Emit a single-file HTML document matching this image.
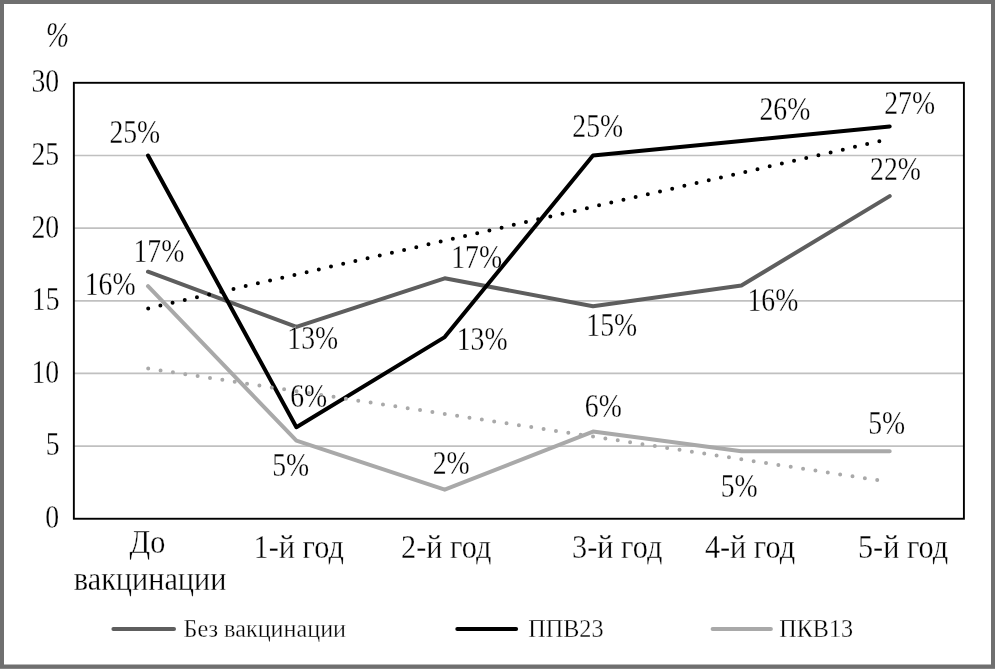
<!DOCTYPE html>
<html><head><meta charset="utf-8"><title>Chart</title>
<style>
html,body{margin:0;padding:0;background:#fff;}
body{width:995px;height:669px;overflow:hidden;}
svg{display:block;}
text{font-family:"Liberation Serif",serif;fill:#000;stroke:#fff;stroke-width:0.3px;paint-order:fill stroke;}
</style></head><body>
<svg width="995" height="669" viewBox="0 0 995 669">
<rect x="0" y="0" width="995" height="669" fill="#6f6f6f"/>
<rect x="0" y="668.2" width="995" height="0.8" fill="#8c8c8c"/>
<rect x="4" y="4" width="987" height="660.5" fill="#fff"/>
<g stroke="#c0c0c0" stroke-width="1.7" fill="none">
<line x1="73.85" x2="963.9" y1="446.1" y2="446.1"/>
<line x1="73.85" x2="963.9" y1="373.4" y2="373.4"/>
<line x1="73.85" x2="963.9" y1="300.8" y2="300.8"/>
<line x1="73.85" x2="963.9" y1="228.1" y2="228.1"/>
<line x1="73.85" x2="963.9" y1="155.5" y2="155.5"/>
</g>
<rect x="73.85" y="82.8" width="890.05" height="435.95" fill="none" stroke="#000" stroke-width="1.9"/>
<g fill="none" stroke-width="4" stroke-linecap="round" stroke-linejoin="round">
<polyline stroke="#a9a9a9" points="148.0,286.2 296.4,440.7 444.7,489.7 593.0,431.6 741.4,451.2 889.7,451.2"/>
<polyline stroke="#5e5e5e" points="148.0,271.7 296.4,326.9 444.7,278.3 593.0,306.3 741.4,285.5 889.7,196.1"/>
<polyline stroke="#000" points="148.0,155.5 296.4,427.2 444.7,337.1 593.0,155.5 741.4,140.9 889.7,126.4"/>
<line stroke="#000" stroke-dasharray="0 12.5" x1="148.2" y1="308.4" x2="889.8" y2="138.9"/>
<line stroke="#a9a9a9" stroke-dasharray="0 12.5" x1="148.2" y1="368.5" x2="884.0" y2="481.1"/>
<line stroke="#5e5e5e" x1="113.4" y1="629" x2="174.0" y2="629"/>
<line stroke="#000" x1="457.3" y1="629" x2="516.1" y2="629"/>
<line stroke="#a9a9a9" x1="712.6" y1="629" x2="770.9" y2="629"/>
</g>
<g>
<text transform="translate(46.04,47.20) scale(0.7786,1)" font-size="35.50" font-style="italic">%</text>
<text transform="translate(31.39,92.20) scale(0.8350,1)" font-size="33.20">30</text>
<text transform="translate(31.39,164.80) scale(0.8350,1)" font-size="33.20">25</text>
<text transform="translate(31.39,237.50) scale(0.8350,1)" font-size="33.20">20</text>
<text transform="translate(31.79,310.10) scale(0.8350,1)" font-size="33.20">15</text>
<text transform="translate(31.39,382.70) scale(0.8350,1)" font-size="33.20">10</text>
<text transform="translate(45.65,455.30) scale(0.8350,1)" font-size="33.20">5</text>
<text transform="translate(45.25,527.90) scale(0.8350,1)" font-size="33.20">0</text>
<text transform="translate(109.40,142.60) scale(0.8350,1)" font-size="33.20">25%</text>
<text transform="translate(133.45,261.80) scale(0.8350,1)" font-size="33.20">17%</text>
<text transform="translate(84.75,294.70) scale(0.8350,1)" font-size="33.20">16%</text>
<text transform="translate(287.35,349.20) scale(0.8350,1)" font-size="33.20">13%</text>
<text transform="translate(290.18,406.50) scale(0.8350,1)" font-size="33.20">6%</text>
<text transform="translate(272.15,476.00) scale(0.8350,1)" font-size="33.20">5%</text>
<text transform="translate(451.20,268.20) scale(0.8350,1)" font-size="33.20">17%</text>
<text transform="translate(456.70,349.60) scale(0.8350,1)" font-size="33.20">13%</text>
<text transform="translate(432.73,473.50) scale(0.8350,1)" font-size="33.20">2%</text>
<text transform="translate(572.30,137.20) scale(0.8350,1)" font-size="33.20">25%</text>
<text transform="translate(586.30,336.40) scale(0.8350,1)" font-size="33.20">15%</text>
<text transform="translate(584.78,416.50) scale(0.8350,1)" font-size="33.20">6%</text>
<text transform="translate(759.45,119.80) scale(0.8350,1)" font-size="33.20">26%</text>
<text transform="translate(747.50,310.50) scale(0.8350,1)" font-size="33.20">16%</text>
<text transform="translate(720.75,496.60) scale(0.8350,1)" font-size="33.20">5%</text>
<text transform="translate(884.20,113.60) scale(0.8350,1)" font-size="33.20">27%</text>
<text transform="translate(870.05,179.50) scale(0.8350,1)" font-size="33.20">22%</text>
<text transform="translate(868.20,434.40) scale(0.8350,1)" font-size="33.20">5%</text>
<text transform="translate(129.59,552.50) scale(0.9120,1)" font-size="33.20">До</text>
<text transform="translate(73.80,589.60) scale(0.9120,1)" font-size="33.20">вакцинации</text>
<text transform="translate(253.58,558.00) scale(0.9120,1)" font-size="33.20">1-й год</text>
<text transform="translate(401.08,558.00) scale(0.9120,1)" font-size="33.20">2-й год</text>
<text transform="translate(572.08,558.00) scale(0.9120,1)" font-size="33.20">3-й год</text>
<text transform="translate(704.89,558.00) scale(0.9120,1)" font-size="33.20">4-й год</text>
<text transform="translate(857.93,558.00) scale(0.9120,1)" font-size="33.20">5-й год</text>
<text transform="translate(183.56,636.90) scale(0.9600,1)" font-size="25.20">Без вакцинации</text>
<text transform="translate(528.30,636.90) scale(0.9600,1)" font-size="25.20">ППВ23</text>
<text transform="translate(779.21,636.90) scale(0.9600,1)" font-size="25.20">ПКВ13</text>
</g>
</svg>
</body></html>
